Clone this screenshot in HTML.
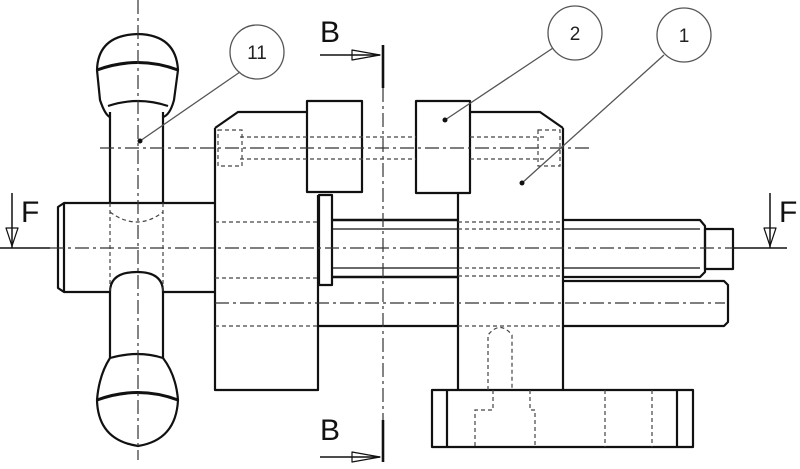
<!DOCTYPE html>
<html><head><meta charset="utf-8"><style>
html,body{margin:0;padding:0;background:#fff;}
svg{display:block;}
text{font-family:"Liberation Sans",sans-serif;}
</style></head><body>
<svg width="800" height="469" viewBox="0 0 800 469" xmlns="http://www.w3.org/2000/svg">
<g fill="none" stroke="#111" stroke-width="2.2" stroke-linejoin="round">
<line x1="110" y1="112" x2="110" y2="203"/><line x1="163" y1="112" x2="163" y2="203"/>
<line x1="110" y1="292" x2="110" y2="358"/><line x1="163" y1="292" x2="163" y2="358"/>
<path d="M110 292 Q110 272 137 272 Q163 272 163 292"/>
<path d="M97 70 Q98 35 138 34 Q176 35 178 70 L174 100 Q170 115 163 117 M97 70 L100 100 Q105 115 110 117"/>
<path d="M97 70 Q138 55 178 70" stroke-width="3"/>
<path d="M108 106 Q138 96 168 106"/>
<path d="M110 358 Q138 350 163 358 Q176 375 178 400 Q176 440 138 446 Q98 440 97 400 Q99 375 110 358"/>
<path d="M97 400 Q138 385 178 400" stroke-width="3"/>
<path d="M64 203 L215 203 M64 292 L110 292 M163 292 L215 292"/>
<path d="M58 207 L64 203 L64 292 L58 288 Z"/>
<path d="M215 128 L238 112 L307 112 M215 128 L215 390 L318 390 L318 195"/>
<rect x="307" y="101" width="55" height="91"/>
<rect x="319" y="195" width="13" height="90"/>
<!-- threaded rod -->
<path d="M332 220 L458 220 M332 277 L458 277" stroke-width="2.6"/>
<path d="M563 220 L700 220 L705 226 L705 272 L700 277 L563 277"/>
<line x1="332" y1="229" x2="458" y2="229" stroke-width="1.3"/>
<line x1="332" y1="268" x2="458" y2="268" stroke-width="1.3"/>
<line x1="563" y1="229" x2="700" y2="229" stroke-width="1.3"/>
<line x1="563" y1="268" x2="700" y2="268" stroke-width="1.3"/>
<rect x="705" y="229" width="28" height="40"/>
<path d="M318 326 L458 326 M563 326 L724 326 L728 322 L728 285 L724 281 L563 281"/>
<path d="M458 193 L458 390 M563 128 L563 390 M470 112 L540 112 L563 128"/>
<rect x="416" y="101" width="54" height="92"/>
<rect x="432" y="390" width="261" height="57"/>
<line x1="447" y1="390" x2="447" y2="447"/><line x1="677" y1="390" x2="677" y2="447"/>
<line x1="383" y1="45" x2="383" y2="88" stroke-width="2.6"/>
<line x1="383" y1="420" x2="383" y2="462" stroke-width="2.6"/>
<line x1="320" y1="55" x2="380" y2="55" stroke-width="1.5"/>
<line x1="320" y1="457" x2="380" y2="457" stroke-width="1.5"/>
<path d="M352 50 L380 55 L352 60 Z" stroke-width="1.2"/>
<path d="M352 452 L380 457 L352 462 Z" stroke-width="1.2"/>
<line x1="0" y1="248" x2="50" y2="248" stroke-width="1.5"/>
<line x1="12" y1="193" x2="12" y2="248" stroke-width="1.5"/>
<path d="M6 228 L12 246 L18 228 Z" stroke-width="1.2"/>
<line x1="733" y1="248" x2="787" y2="248" stroke-width="1.5"/>
<line x1="770" y1="193" x2="770" y2="248" stroke-width="1.5"/>
<path d="M764 228 L770 246 L776 228 Z" stroke-width="1.2"/>
</g>
<g fill="none" stroke="#333" stroke-width="1.2" stroke-dasharray="14,4,3,4">
<line x1="138" y1="0" x2="138" y2="460"/>
<line x1="383" y1="88" x2="383" y2="420"/>
<line x1="50" y1="248" x2="733" y2="248"/>
<line x1="100" y1="148" x2="590" y2="148"/>
<line x1="215" y1="303" x2="725" y2="303"/>
</g>
<g fill="none" stroke="#444" stroke-width="1.2" stroke-dasharray="4,3">
<line x1="110" y1="203" x2="110" y2="292"/><line x1="163" y1="203" x2="163" y2="292"/>
<path d="M110 212 Q137 232 163 212"/>
<line x1="215" y1="222" x2="319" y2="222"/><line x1="215" y1="278" x2="319" y2="278"/>
<line x1="215" y1="326" x2="318" y2="326"/>
<line x1="458" y1="222" x2="563" y2="222"/><line x1="458" y1="229" x2="563" y2="229"/>
<line x1="458" y1="268" x2="563" y2="268"/><line x1="458" y1="276" x2="563" y2="276"/>
<line x1="458" y1="326" x2="563" y2="326"/>
<line x1="240" y1="137" x2="416" y2="137"/><line x1="240" y1="159" x2="416" y2="159"/>
<line x1="470" y1="137" x2="545" y2="137"/><line x1="470" y1="159" x2="545" y2="159"/>
<rect x="218" y="130" width="24" height="36"/><rect x="538" y="130" width="22" height="36"/>
<path d="M488 390 L488 335 Q500 320 512 335 L512 390"/>
<path d="M493 390 L493 410 L475 410 L475 447 M530 390 L530 410 L535 410 L535 447"/>
<line x1="605" y1="390" x2="605" y2="447"/><line x1="652" y1="390" x2="652" y2="447"/>
</g>
<g fill="none" stroke="#555" stroke-width="1.3">
<circle cx="257" cy="52" r="27"/>
<circle cx="575" cy="33" r="27"/>
<circle cx="684" cy="35" r="27"/>
<line x1="240" y1="72" x2="140" y2="141"/>
<line x1="553" y1="48" x2="445" y2="120"/>
<line x1="664" y1="55" x2="522" y2="183"/>
</g>
<circle cx="140" cy="141" r="2.5" fill="#111"/>
<circle cx="445" cy="120" r="2.5" fill="#111"/>
<circle cx="522" cy="183" r="2.5" fill="#111"/>
<g fill="#222" font-size="19">
<text x="257" y="59" text-anchor="middle">11</text>
<text x="575" y="40" text-anchor="middle">2</text>
<text x="684" y="42" text-anchor="middle">1</text>
</g>
<g fill="#111" font-size="30">
<text x="320" y="42">B</text>
<text x="320" y="440">B</text>
<text x="21" y="222">F</text>
<text x="779" y="222">F</text>
</g>
</svg>
</body></html>
